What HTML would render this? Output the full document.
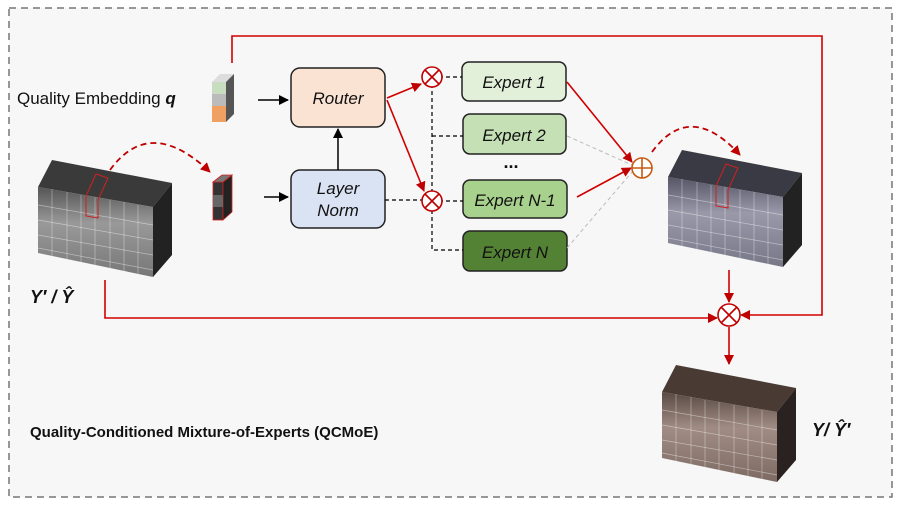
<!DOCTYPE html>
<html><head><meta charset="utf-8"><style>
html,body{margin:0;padding:0;background:#fff}
svg{display:block}
text{font-family:"Liberation Sans",sans-serif}
</style></head><body>
<svg width="897" height="505" viewBox="0 0 897 505" xmlns="http://www.w3.org/2000/svg">
<defs>
<marker id="ar" markerWidth="10" markerHeight="10" refX="9" refY="5" orient="auto" markerUnits="userSpaceOnUse"><path d="M0,0 L10,5 L0,10 z" fill="#c00000"/></marker>
<marker id="ak" markerWidth="10" markerHeight="10" refX="9" refY="5" orient="auto" markerUnits="userSpaceOnUse"><path d="M0,0 L10,5 L0,10 z" fill="#000"/></marker>
<linearGradient id="g1" x1="0" y1="0" x2="0" y2="1"><stop offset="0" stop-color="#555"/><stop offset="0.4" stop-color="#999"/><stop offset="1" stop-color="#777"/></linearGradient>
<linearGradient id="g2" x1="0" y1="0" x2="0" y2="1"><stop offset="0" stop-color="#556"/><stop offset="0.4" stop-color="#99a"/><stop offset="1" stop-color="#778"/></linearGradient>
<linearGradient id="g3" x1="0" y1="0" x2="0" y2="1"><stop offset="0" stop-color="#5a4a44"/><stop offset="0.4" stop-color="#a08c84"/><stop offset="1" stop-color="#7d6a62"/></linearGradient>
<g id="grid" stroke="#fff" stroke-opacity="0.45" stroke-width="0.7">
<line x1="14" y1="29" x2="14" y2="96"/><line x1="29" y1="32" x2="29" y2="99"/><line x1="43" y1="35" x2="43" y2="102"/><line x1="57" y1="37" x2="57" y2="105"/><line x1="72" y1="40" x2="72" y2="108"/><line x1="86" y1="42" x2="86" y2="111"/><line x1="100" y1="45" x2="100" y2="114"/>
<line x1="0" y1="45" x2="115" y2="65"/><line x1="0" y1="60" x2="115" y2="80"/><line x1="0" y1="75" x2="115" y2="95"/><line x1="0" y1="88" x2="115" y2="110"/>
</g>
</defs>
<rect x="9" y="8" width="883" height="489" fill="#f7f7f7" stroke="#777" stroke-width="1.5" stroke-dasharray="7,5"/>

<!-- left cube -->
<g transform="translate(38,160)">
<polygon points="0,27 14,0 134,23 115,47" fill="#3a3a3a"/>
<polygon points="115,47 134,23 134,95 115,117" fill="#222"/>
<polygon points="0,27 115,47 115,117 0,93" fill="url(#g1)"/>
<use href="#grid"/>
<polygon points="48,36 58,14 70,18 60,40 60,58 48,56" fill="none" stroke="#d02020" stroke-width="1"/>
</g>
<!-- right cube -->
<g transform="translate(668,150)">
<polygon points="0,27 14,0 134,23 115,47" fill="#3a3a44"/>
<polygon points="115,47 134,23 134,95 115,117" fill="#222"/>
<polygon points="0,27 115,47 115,117 0,93" fill="url(#g2)"/>
<use href="#grid"/>
<polygon points="48,36 58,14 70,18 60,40 60,58 48,56" fill="none" stroke="#d02020" stroke-width="1"/>
</g>
<!-- bottom cube -->
<g transform="translate(662,365)">
<polygon points="0,27 14,0 134,23 115,47" fill="#4a3a34"/>
<polygon points="115,47 134,23 134,95 115,117" fill="#2a2220"/>
<polygon points="0,27 115,47 115,117 0,93" fill="url(#g3)"/>
<use href="#grid"/>
</g>

<!-- q embedding -->
<g>
<rect x="212" y="82" width="14" height="40" fill="#f0a060"/>
<rect x="212" y="82" width="14" height="12" fill="#c8dcc0"/>
<rect x="212" y="94" width="14" height="12" fill="#bbb"/>
<polygon points="212,82 220,74 234,74 226,82" fill="#ddd"/>
<polygon points="226,82 234,74 234,114 226,122" fill="#555"/>
</g>
<!-- token -->
<g>
<polygon points="213,182 223,175 223,213 213,220" fill="#444"/>
<rect x="213" y="182" width="10" height="38" fill="#333" stroke="#d02020" stroke-width="0.8"/>
<polygon points="223,182 232,175 232,212 223,220" fill="#222" stroke="#d02020" stroke-width="0.8"/>
<polygon points="213,182 222,175 232,175 223,182" fill="#777" stroke="#d02020" stroke-width="0.8"/>
<rect x="213" y="195" width="10" height="12" fill="#666"/>
</g>

<text x="17" y="104" font-size="17" fill="#111">Quality Embedding <tspan font-weight="bold" font-style="italic">q</tspan></text>

<!-- boxes -->
<g stroke="#222" stroke-width="1.5">
<rect x="291" y="68" width="94" height="59" rx="9" fill="#fbe3d4"/>
<rect x="291" y="170" width="94" height="58" rx="9" fill="#dae3f3"/>
<rect x="462" y="62" width="104" height="39" rx="7" fill="#e2efd9"/>
<rect x="463" y="114" width="103" height="40" rx="7" fill="#c5e0b4"/>
<rect x="463" y="180" width="104" height="38" rx="7" fill="#a9d18e"/>
<rect x="463" y="231" width="104" height="40" rx="7" fill="#548235"/>
</g>
<g font-size="17" font-style="italic" fill="#111" text-anchor="middle">
<text x="338" y="104">Router</text>
<text x="338" y="194">Layer</text>
<text x="338" y="216">Norm</text>
<text x="514" y="88">Expert 1</text>
<text x="514" y="141">Expert 2</text>
<text x="515" y="206">Expert N-1</text>
<text x="515" y="258">Expert N</text>
</g>
<text x="511" y="168" font-size="18" font-weight="bold" text-anchor="middle" fill="#111">...</text>

<!-- black arrows -->
<g stroke="#000" stroke-width="1.5">
<line x1="258" y1="100" x2="288" y2="100" marker-end="url(#ak)"/>
<line x1="264" y1="197" x2="288" y2="197" marker-end="url(#ak)"/>
<line x1="338" y1="170" x2="338" y2="129" marker-end="url(#ak)"/>
</g>
<!-- dashed black -->
<g stroke="#000" stroke-width="1.2" stroke-dasharray="4,3" fill="none">
<line x1="385" y1="200" x2="422" y2="200"/>
<line x1="432" y1="77" x2="462" y2="77"/>
<line x1="432" y1="201" x2="463" y2="201"/>
<polyline points="432,77 432,250 463,250"/>
<line x1="432" y1="136" x2="463" y2="136"/>
</g>
<!-- grey dashed -->
<g stroke="#bbb" stroke-width="1" stroke-dasharray="4,3">
<line x1="567" y1="136" x2="632" y2="165"/>
<line x1="567" y1="248" x2="632" y2="172"/>
</g>
<!-- red arrows -->
<g stroke="#d00000" stroke-width="1.6" fill="none">
<line x1="387" y1="98" x2="421" y2="84" marker-end="url(#ar)"/>
<line x1="387" y1="100" x2="424" y2="191" marker-end="url(#ar)"/>
<line x1="567" y1="82" x2="632" y2="162" marker-end="url(#ar)"/>
<line x1="577" y1="197" x2="631" y2="168" marker-end="url(#ar)"/>
<polyline points="232,63 232,36 822,36 822,315 741,315" marker-end="url(#ar)"/>
<polyline points="105,280 105,318 717,318" marker-end="url(#ar)"/>
<line x1="729" y1="270" x2="729" y2="302" marker-end="url(#ar)"/>
<line x1="729" y1="327" x2="729" y2="364" marker-end="url(#ar)"/>
</g>
<g stroke="#c00000" stroke-width="1.8" fill="none" stroke-dasharray="6,4">
<path d="M110,170 Q150,115 210,172" marker-end="url(#ar)"/>
<path d="M652,152 Q690,100 740,155" marker-end="url(#ar)"/>
</g>
<!-- circles -->
<g stroke="#c00000" stroke-width="1.6" fill="#fff">
<circle cx="432" cy="77" r="10"/><path d="M425,70 L439,84 M439,70 L425,84"/>
<circle cx="432" cy="201" r="10"/><path d="M425,194 L439,208 M439,194 L425,208"/>
<circle cx="729" cy="315" r="11"/><path d="M721,307 L737,323 M737,307 L721,323"/>
</g>
<g stroke="#c55a11" stroke-width="1.6" fill="#fff">
<circle cx="642" cy="168" r="10"/><path d="M632,168 L652,168 M642,158 L642,178"/>
</g>

<text x="30" y="303" font-size="18" font-weight="bold" font-style="italic" font-family="Liberation Serif,serif" fill="#111">Y′ / Ŷ</text>
<text x="812" y="436" font-size="18" font-weight="bold" font-style="italic" font-family="Liberation Serif,serif" fill="#111">Y/ Ŷ′</text>
<text x="30" y="437" font-size="15" font-weight="bold" fill="#111">Quality-Conditioned Mixture-of-Experts (QCMoE)</text>
</svg>
</body></html>
